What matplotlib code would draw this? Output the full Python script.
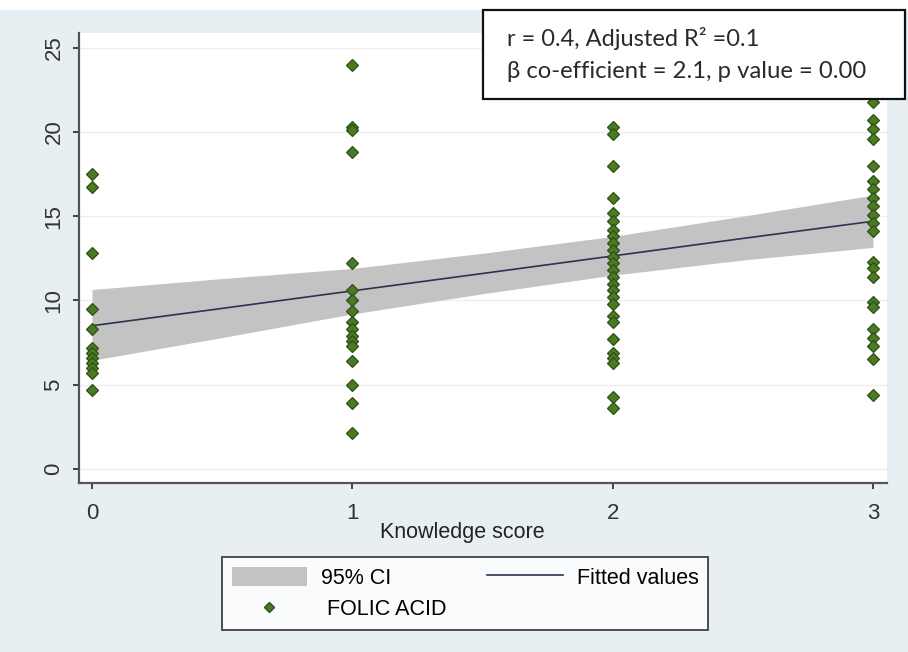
import matplotlib
matplotlib.use("Agg")
import matplotlib.pyplot as plt
from matplotlib.patches import Patch, Rectangle
from matplotlib.lines import Line2D

# ---- data ----
score_levels = [0, 1, 2, 3]
folic_0 = [17.5, 16.75, 12.8, 9.5, 8.3, 7.2, 6.9, 6.6, 6.3, 6.0, 5.7, 4.7]
folic_1 = [24.0, 20.3, 20.1, 18.8, 12.25, 10.6, 10.0, 9.4, 8.7, 8.3, 7.9, 7.6,
           7.3, 6.4, 5.0, 3.9, 2.15]
folic_2 = [20.3, 19.9, 18.0, 16.1, 15.2, 14.7, 14.2, 13.8, 13.4, 13.0, 12.6,
           12.2, 11.8, 11.4, 11.0, 10.6, 10.2, 9.8, 9.1, 8.7, 7.7, 6.9, 6.6,
           6.3, 4.3, 3.6]
folic_3 = [21.8, 20.7, 20.2, 19.6, 18.0, 17.1, 16.6, 16.1, 15.6, 15.1, 14.6,
           14.1, 12.3, 11.9, 11.4, 9.9, 9.6, 8.3, 7.8, 7.3, 6.5, 4.4]

fit_x = [0, 0.5, 1, 1.5, 2, 2.5, 3]
fit_y = [8.5, 9.53, 10.57, 11.6, 12.64, 13.68, 14.7]
ci_lower = [6.45, 7.8, 9.2, 10.4, 11.5, 12.4, 13.15]
ci_upper = [10.65, 11.3, 11.9, 12.8, 13.8, 15.0, 16.25]

y_ticks = [0, 5, 10, 15, 20, 25]
x_ticks = [0, 1, 2, 3]

# ---- figure ----
BG = "#e8eff3"
fig = plt.figure(figsize=(9.08, 6.52), dpi=100, facecolor=BG)
fig.patches.append(Rectangle((0, 1-10/652), 1, 10/652, transform=fig.transFigure,
                             facecolor="white", edgecolor="none", zorder=0))
ax = fig.add_axes([79/908, 1-483/652, 808/908, 450/652])
ax.set_facecolor("white")

FONT = ["Liberation Sans", "DejaVu Sans"]
GREEN = "#4a7a22"
GREEN_EDGE = "#2f4f18"

ax.fill_between(fit_x, ci_lower, ci_upper, color="#c3c3c3", linewidth=0, zorder=1)
ax.plot(fit_x, fit_y, color="#2a3550", linewidth=1.2, zorder=2)

groups = [folic_0, folic_1, folic_2, folic_3]
for xv, vals in zip(score_levels, groups):
    ax.plot([xv]*len(vals), vals, linestyle="none", marker="D", markersize=5.8,
            markerfacecolor=GREEN, markeredgecolor=GREEN_EDGE,
            markeredgewidth=0.9, zorder=3, clip_on=False)

ax.set_xlim(-0.05, 3.054)
ax.set_ylim(-0.83, 25.87)
ax.set_yticks(y_ticks)
ax.set_xticks(x_ticks)
ax.set_yticklabels([str(v) for v in y_ticks], rotation=90, va="center",
                   fontsize=16, family=FONT, color="#2a2a2a")
ax.set_xticklabels([str(v) for v in x_ticks], fontsize=16, family=FONT,
                   color="#2a2a2a")
ax.tick_params(axis="both", direction="out", length=4.5, width=1.3,
               colors="#333333")
ax.tick_params(axis="y", pad=6)
ax.tick_params(axis="x", pad=10)
ax.grid(axis="y", color="#efefef", linewidth=1.0)
ax.set_axisbelow(True)
for s in ["top", "right"]:
    ax.spines[s].set_visible(False)
for s in ["left", "bottom"]:
    ax.spines[s].set_color("#555555")
    ax.spines[s].set_linewidth(1.6)

ax.set_xlabel("Knowledge score", fontsize=15.5, family=FONT, color="#222222")
ax.xaxis.set_label_coords(0.475, -0.086)

# ---- annotation box ----
fig.patches.append(Rectangle((483/908, 1-99/652), 422/908, 89/652,
                             transform=fig.transFigure, facecolor="white",
                             edgecolor="#111111", linewidth=1.6, zorder=5))
fig.text(507/908, 1-38/652, "r = 0.4, Adjusted R\u00b2 =0.1", fontsize=17,
         family=["Lato", "DejaVu Sans"], va="center", ha="left", color="#2a2a2a",
         zorder=10)
fig.text(507/908, 1-71/652, "\u03b2 co-efficient = 2.1, p value = 0.00",
         fontsize=17.2, family=["Lato", "DejaVu Sans"], va="center", ha="left",
         color="#2a2a2a", zorder=10)

# ---- legend ----
handles = [
    Patch(facecolor="#c3c3c3", edgecolor="none"),
    Line2D([], [], linestyle="none", marker="D", markersize=5,
           markerfacecolor=GREEN, markeredgecolor=GREEN_EDGE),
    Line2D([], [], color="#2a3550", linewidth=1.2),
]
labels = ["95% CI", " FOLIC ACID", "Fitted values"]
leg = fig.legend(handles, labels, ncol=2, loc="upper left",
                 bbox_to_anchor=(222/908, 1-557/652), frameon=True,
                 prop={"family": FONT, "size": 15.5}, handlelength=3.5,
                 handleheight=1.0, columnspacing=1.9, labelspacing=0.45,
                 borderpad=0.45, handletextpad=0.65, fancybox=False,
                 borderaxespad=0)
leg.get_frame().set_edgecolor("#222222")
leg.get_frame().set_linewidth(1.4)

fig.savefig("out.png", dpi=100, facecolor=BG)
